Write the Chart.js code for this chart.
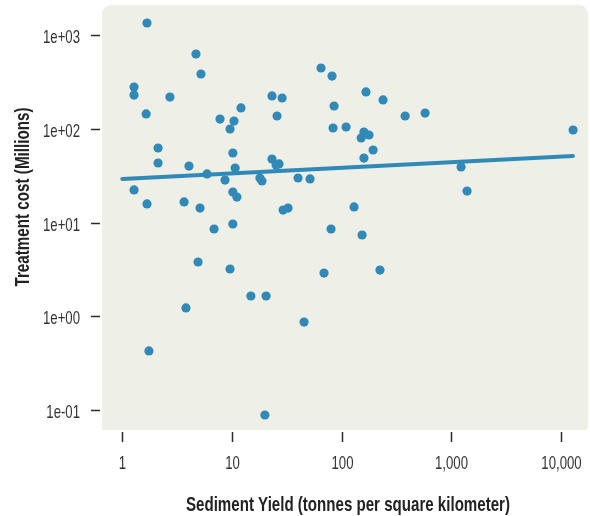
<!DOCTYPE html>
<html>
<head>
<meta charset="utf-8">
<script src="https://cdn.jsdelivr.net/npm/chart.js@4"></script>
<style>
    body { margin: 0; background: #ffffff; }
    canvas { display: block; }
</style>
</head>
<body>
<canvas id="costChart" width="590" height="516"></canvas>
<script>
// Sediment yield (t/km2) vs treatment cost (millions)
const sedimentYield = [
    1.68, 4.70, 5.22, 1.28, 1.28, 2.72, 1.65, 12.1, 7.79, 10.45,
    9.61, 2.12, 10.2, 2.12, 4.06, 10.7, 5.93, 8.65, 1.28, 10.2,
    11.1, 1.68, 3.66, 5.12, 6.87, 10.2, 4.91, 9.61, 1.75, 3.81,
    14.9, 20.5, 45.5, 20.0, 65.0, 81.9, 23.2, 28.7, 25.8, 167,
    85.5, 239, 83.6, 110, 160, 178, 151, 194, 160, 23.2,
    25.3, 26.9, 18.0, 18.8, 40.1, 51.6, 29.3, 32.5, 130, 80.2,
    154, 69.2, 224, 380, 578, 12940, 1231, 1396
];
const treatmentCost = [
    1343, 627, 384, 279, 229, 218, 144, 167, 127, 121,
    99.5, 62.4, 55.2, 43.2, 40.1, 38.2, 33.0, 28.4, 22.3, 21.2,
    18.7, 15.8, 16.6, 14.3, 8.55, 9.66, 3.80, 3.20, 0.428, 1.23,
    1.65, 1.65, 0.871, 0.0889, 445, 365, 224, 213, 137, 247,
    175, 203, 102, 104.5, 92.5, 85.9, 79.8, 59.4, 48.8, 47.6,
    41.1, 42.2, 29.9, 27.8, 29.9, 29.2, 13.6, 14.3, 14.7, 8.55,
    7.38, 2.90, 3.12, 137, 147, 97.1, 39.2, 21.7
];

// fitted trend line end points
const trendX = [1, 12900];
const trendY = [29.2, 51.3];

const xTickValues = [1, 10, 100, 1000, 10000];
const xTickLabels = ['1', '10', '100', '1,000', '10,000'];
const yTickValues = [0.1, 1, 10, 100, 1000];
const yTickLabels = ['1e-01', '1e+00', '1e+01', '1e+02', '1e+03'];

const xTitle = 'Sediment Yield (tonnes per square kilometer)';
const yTitle = 'Treatment cost (Millions)';

const dotColor = '#3189b8';
const panelColor = '#eeefe7';
const inkColor = '#2b2b2b';
const face = '"Liberation Sans", Arial, sans-serif';

// panel background with rounded corners
const panelPlugin = {
    id: 'panel',
    beforeDraw(chart) {
        const { ctx, chartArea: a } = chart;
        ctx.save();
        ctx.fillStyle = panelColor;
        ctx.beginPath();
        ctx.roundRect(a.left, a.top, a.right - a.left, a.bottom - a.top, [9, 9, 4, 0]);
        ctx.fill();
        ctx.restore();
    }
};

// the original uses a very narrow typeface, so squeeze text sideways
function narrowText(ctx, text, x, y, squeeze, align) {
    ctx.save();
    ctx.translate(x, y);
    ctx.scale(squeeze, 1);
    ctx.textAlign = align;
    ctx.fillText(text, 0, 0);
    ctx.restore();
}

// tick marks and labels outside the panel, plus the two axis titles
const axisPlugin = {
    id: 'axisMarks',
    afterDraw(chart) {
        const { ctx, chartArea: a } = chart;
        const xs = chart.scales.x, ys = chart.scales.y;
        ctx.save();
        ctx.strokeStyle = inkColor;
        ctx.lineWidth = 1.5;
        ctx.fillStyle = '#333333';
        ctx.textBaseline = 'alphabetic';
        ctx.font = '19px ' + face;
        const tickSqueeze = 37 / ctx.measureText('1e+03').width;

        yTickValues.forEach((v, i) => {
            const p = Math.round(ys.getPixelForValue(v));
            ctx.beginPath();
            ctx.moveTo(a.left - 11, p + 0.5);
            ctx.lineTo(a.left - 2, p + 0.5);
            ctx.stroke();
            narrowText(ctx, yTickLabels[i], 80, p + 7.5, tickSqueeze, 'right');
        });
        xTickValues.forEach((v, i) => {
            const p = Math.round(xs.getPixelForValue(v));
            ctx.beginPath();
            ctx.moveTo(p + 0.5, a.bottom + 2);
            ctx.lineTo(p + 0.5, a.bottom + 12);
            ctx.stroke();
            narrowText(ctx, xTickLabels[i], p + 0.5, 469, tickSqueeze, 'center');
        });

        ctx.fillStyle = '#222222';
        ctx.font = 'bold 21px ' + face;
        narrowText(ctx, xTitle, 348, 511, 324 / ctx.measureText(xTitle).width, 'center');

        ctx.translate(29, 197);
        ctx.rotate(-Math.PI / 2);
        narrowText(ctx, yTitle, 0, 0, 179 / ctx.measureText(yTitle).width, 'center');
        ctx.restore();
    }
};

const ctx = document.getElementById('costChart').getContext('2d');
new Chart(ctx, {
    type: 'scatter',
    data: {
        datasets: [
            {
                label: 'Watersheds',
                data: sedimentYield.map((x, i) => ({ x: x, y: treatmentCost[i] })),
                backgroundColor: dotColor,
                borderWidth: 0,
                pointRadius: 4.6,
                pointHoverRadius: 4.6,
                order: 0
            },
            {
                type: 'line',
                label: 'Trend',
                data: trendX.map((x, i) => ({ x: x, y: trendY[i] })),
                borderColor: dotColor,
                borderWidth: 4,
                borderCapStyle: 'round',
                pointRadius: 0,
                fill: false,
                order: 1
            }
        ]
    },
    options: {
        responsive: false,
        devicePixelRatio: 1,
        animation: false,
        layout: {
            autoPadding: false,
            padding: { top: 5, right: 2, left: 0, bottom: 0 }
        },
        plugins: {
            legend: { display: false },
            tooltip: { enabled: false }
        },
        scales: {
            x: {
                type: 'logarithmic',
                min: 0.653,
                max: 17700,
                grid: { display: false },
                border: { display: false },
                ticks: { display: false },
                afterBuildTicks: scale => {
                    scale.ticks = xTickValues.map(v => ({ value: v }));
                },
                afterFit: scale => {
                    scale.height = 86;
                    scale.paddingLeft = 0;
                    scale.paddingRight = 0;
                }
            },
            y: {
                type: 'logarithmic',
                min: 0.0615,
                max: 2089,
                grid: { display: false },
                border: { display: false },
                ticks: { display: false },
                afterBuildTicks: scale => {
                    scale.ticks = yTickValues.map(v => ({ value: v }));
                },
                afterFit: scale => {
                    scale.width = 102;
                    scale.paddingTop = 0;
                    scale.paddingBottom = 0;
                }
            }
        }
    },
    plugins: [panelPlugin, axisPlugin]
});
</script>
</body>
</html>
